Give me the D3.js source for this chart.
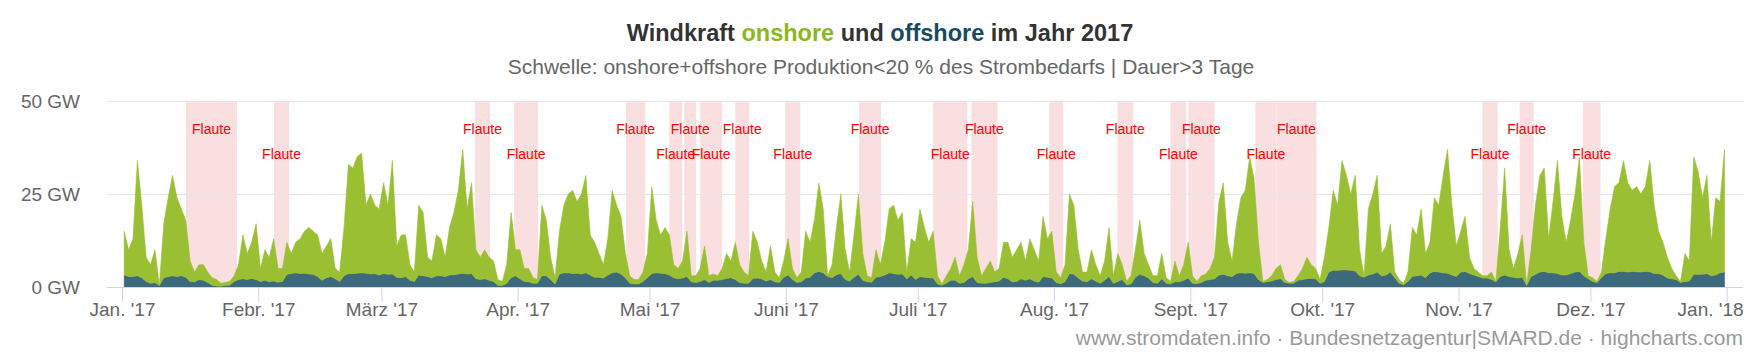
<!DOCTYPE html>
<html><head><meta charset="utf-8">
<script src="https://cdn.jsdelivr.net/npm/d3@7"></script>
<style>
html,body{margin:0;padding:0;background:#fff;}
svg{display:block;font-family:"Liberation Sans",Arial,Helvetica,sans-serif;}
</style></head>
<body>
<svg id="chart" width="1761" height="352"></svg>
<script>
// ---------- DATA (daily readings, GW) ----------
const windTotalGW = [
15,10,13,34,22,8,6,10,0.5,17,
24,30,24,21,18,7,4,6,6,4,
2.5,2,1,1.2,1.5,3,6,14,9,12,
17,5,10,8,13,5,5,12,9,12,
13,15,16,15,14,9,11,13,5,4,
16,33,32,35,36,22,25,22,21,28,
22,34,11,14,14,6,4,22,20,8,
7,14,13,8,16,20,26,37,21,28,
10,8,10,8,7,2,1.5,6,20,10,
10,5,5,2.5,2,22,18,8,2.5,15,
22,25,26,23,25,30,14,12,9,6,
13,26,22,19,9,3,2,2,4,9,
27,18,14,16,14,6,5,7,15,3,
3,5,11,3,3.5,3,5,9,7,12,
6,4,3,15,12,7,4,11,4,2.5,
7,13,5,2.5,4,15,12,18,28,21,
3,6,16,25,10,4,14,25,9,3,
2.5,10,6,12,21,22,18,20,4,13,
12,21,16,12,15,3,0.8,3,5,8,
3,6,10,23,8,3,5,7,4,5,
12,12,8,10,12,7,13,10,7,19,
13,15,4,2.5,6,25,22,10,4,4,
10,6,3,7,16,3,9,6,1.5,3,
10,18,9,6,3,3,9,2.5,1.5,7,
3,6,12,3,1.5,3,3.5,5,8,23,
28,12,7,17,24,26,35,29,12,1.5,
2,3,5,6,2,1.2,1.5,3,5,8,
6,5,2,8,16,26,22,34,30,25,
30,10,3,21,25,30,9,11,17,4,
2,1,4,16,14,21,9,12,24,22,
30,37,22,11,15,19,8,5,4,3,
3,4,1.5,16,32,10,5,9,14,0.5,
10,22,30,32,13,23,34,19,12,18,
25,35,12,3,2.5,1.5,4,13,21,27,
28,34,28,26,27,25,27,34,22,15,
12,8,5,3,1.5,9,7,35,31,24,
30,12,24,23,37
];
const offshoreGW = [
3.2,2.8,2.8,3,2.5,1.5,1,1.2,0.4,2.5,
2.8,3,2.8,3,2.6,1.5,1.4,2,1.8,1.2,
0.5,0.3,0.2,0.4,0.5,1.5,2,2.2,2,2.3,
2,1.5,1.8,1.4,1.6,1.3,1.5,3.4,3.6,3.8,
3.6,3.7,3.5,3.4,2.8,1.8,2.5,2.8,2.2,1.5,
3,3.6,3.6,3.7,3.8,3.7,3.5,3.6,3.2,3.6,
3.4,3.5,2.6,2.5,2.8,1.8,1.5,3.2,3,2.8,
2.5,3,3,2.8,3.2,3.3,3.5,3.7,3.5,3.6,
2.2,2,2.2,1.8,1.5,0.5,0.4,1,2.5,3,
2.2,1.5,1.4,1,1,3,3,2,0.8,3.5,
3.8,3.8,3.6,3.7,3.5,3.8,3.2,2.6,2.6,2.4,
3.2,3.8,4,3.5,2.5,1,0.8,0.8,1.5,2.5,
3.6,3.8,3.7,3.6,3.2,2.5,2.2,2.4,2.8,1.4,
1.2,1.5,2,1.2,1.8,1.8,2,2.3,2.5,2,
1.2,1,1,2.3,2.4,2.2,1.6,2,1.4,1.2,
2.6,3.2,2,1.2,1.4,2.4,2.6,3.8,4.2,3.8,
2.8,2.5,3.3,3.6,2,1.6,2.6,3.4,1.8,1.4,
1.3,2.6,2.8,3.2,3.8,3.6,3.4,3.5,2.2,3.2,
2,2.8,2.6,2.5,2.4,0.8,0.5,1,1.8,1.8,
1,1.2,2.2,2.8,1.2,1,1,1.2,1.4,1.6,
2.6,2.2,1.4,1.5,2.2,1.8,2.2,1.6,1.3,2.8,
2.6,2.4,1.2,0.9,1.4,3.6,3.4,2.4,1.6,1.4,
2.2,1.6,1,1.8,2.8,1,1.5,2,0.6,0.8,
2.6,3.4,3,2.4,1.2,1,2.2,1,0.8,1.4,
1.4,1.8,2.4,1,0.9,1.2,1.8,2,2.2,3.2,
3.4,3,2.8,3.6,3.8,3.7,3.8,3.6,2,1.2,
1.4,1.6,2,2.2,1.2,1,1,1.8,2,2.2,
2.3,2.2,1,1.5,4,4.5,4.5,4.6,4.6,4.5,
4.3,3,2.6,3.2,3.5,4,3,3.2,4,2.5,
1,0.6,1.5,2.8,3,3.2,2.5,3.8,4.2,4,
3.8,3.7,3.2,2.8,4,4.2,3.6,3.2,2.8,2.4,
2.4,2,1.4,2.8,3.2,2.8,2.6,2.4,2.6,0.4,
2.8,3.4,4,4.2,3.8,3.8,3.6,3.2,3.2,3.6,
4,4.2,3,2.2,1.5,1.2,2.5,3.6,3.8,3.8,
4.2,4.2,4,4.2,4.1,4,4.2,4.1,3.6,3.6,
3.2,2.4,2.2,2,1.2,1.5,1.6,3.4,3.4,3.4,
3.6,3,3.2,3.8,4
];
const flauteStart = ["2017-01-15T13:00","2017-02-04T14:00","2017-03-22T07:00","2017-03-31T05:00","2017-04-25T16:00","2017-05-05T12:00","2017-05-08T22:00","2017-05-12T12:00","2017-05-20T12:00","2017-05-31T21:00","2017-06-17T16:00","2017-07-04T12:00","2017-07-13T05:00","2017-07-30T22:00","2017-08-15T10:00","2017-08-27T12:00","2017-08-31T13:00","2017-09-15T19:00","2017-09-20T14:00","2017-11-06T10:00","2017-11-14T22:00","2017-11-29T07:00"];
const flauteEnd   = ["2017-01-27T04:00","2017-02-08T00:00","2017-03-25T17:00","2017-04-05T15:00","2017-04-30T00:00","2017-05-08T10:00","2017-05-11T14:00","2017-05-17T12:00","2017-05-23T16:00","2017-06-04T07:00","2017-06-22T16:00","2017-07-12T07:00","2017-07-19T02:00","2017-08-03T02:00","2017-08-19T00:00","2017-08-31T02:00","2017-09-06T12:00","2017-09-20T14:00","2017-09-29T17:00","2017-11-09T22:00","2017-11-18T02:00","2017-12-03T07:00"];
const monthTickLabels = ["Jan. '17","Febr. '17","März '17","Apr. '17","Mai '17","Juni '17","Juli '17","Aug. '17","Sept. '17","Okt. '17","Nov. '17","Dez. '17","Jan. '18"];
const yTickValues = [0,25,50];
const yTickLabels = ["0 GW","25 GW","50 GW"];

// ---------- LAYOUT ----------
const svg = d3.select("#chart");
const plotL = 107, plotR = 1743, plotT = 101, plotB = 287;
const t0 = Date.UTC(2017,0,1), t1 = Date.UTC(2018,0,1), DAY = 86400000;
const x = d3.scaleUtc().domain([t0, t1]).range([122, 1726.7]);
const y = d3.scaleLinear().domain([0,50]).range([plotB, plotT]);
const parse = d3.utcParse("%Y-%m-%dT%H:%M");

const table = windTotalGW.map((tot,i)=>({
  date: t0 + (i+0.5)*DAY,
  offshore: offshoreGW[i],
  onshore: Math.max(0, tot - offshoreGW[i])
}));
const stack = d3.stack().keys(["offshore","onshore"])(table);

// plot bands
const bands = flauteStart.map((s,i)=>({s:parse(s), e:parse(flauteEnd[i])}));
svg.append("g").selectAll("rect").data(bands).join("rect")
  .attr("x", d=>x(d.s)).attr("width", d=>x(d.e)-x(d.s))
  .attr("y", plotT).attr("height", plotB-plotT)
  .attr("fill", "#f9dfe0");

// gridlines
svg.append("g").selectAll("line").data(yTickValues).join("line")
  .attr("x1", plotL).attr("x2", plotR)
  .attr("y1", d=>Math.round(y(d))+0.5).attr("y2", d=>Math.round(y(d))+0.5)
  .attr("stroke", "#e6e6e6").attr("stroke-width", 1);

// areas
const area = d3.area().x(d=>x(d.data.date)).y0(d=>y(d[0])).y1(d=>y(d[1]));
const fills = {offshore:"#3d697d", onshore:"#9bbf33"};
svg.append("g").selectAll("path").data(stack).join("path")
  .attr("d", area).attr("fill", d=>fills[d.key])
  .attr("stroke", d=>fills[d.key]).attr("stroke-width", 0.6);

// x axis
const monthDates = d3.range(13).map(m=>new Date(Date.UTC(2017,m,1)));
const xAxis = d3.axisBottom(x).tickValues(monthDates)
  .tickFormat((d,i)=>monthTickLabels[i]).tickSizeOuter(0).tickSizeInner(15).tickPadding(1);
const gx = svg.append("g").attr("transform", `translate(0,${plotB})`).call(xAxis);
gx.select(".domain").remove();
gx.selectAll(".tick line").attr("stroke", "#ccd6eb");
gx.selectAll(".tick text").attr("fill", "#666").attr("font-size", "19px")
  .attr("font-family", "Liberation Sans, Arial, sans-serif").attr("dy", "0.71em");
gx.selectAll(".tick").filter((d,i)=>i===12).select("text")
  .attr("text-anchor", "end").attr("x", plotR - x(monthDates[12]));
svg.append("line").attr("x1", plotL).attr("x2", plotR)
  .attr("y1", plotB+0.5).attr("y2", plotB+0.5).attr("stroke", "#ccd6eb");

// y axis labels
const yAxis = d3.axisLeft(y).tickValues(yTickValues).tickFormat((d,i)=>yTickLabels[i]).tickSize(0).tickPadding(0);
const gy = svg.append("g").attr("transform", `translate(80,0)`).call(yAxis);
gy.select(".domain").remove();
gy.selectAll(".tick text").attr("fill", "#666").attr("font-size", "19px")
  .attr("font-family", "Liberation Sans, Arial, sans-serif");

// band labels
svg.append("g").selectAll("text").data(bands).join("text")
  .attr("x", d=>(x(d.s)+x(d.e))/2).attr("y", (d,i)=> i%2===0 ? 134 : 158.5)
  .attr("text-anchor", "middle").attr("font-size", "14px").attr("fill", "#ff0000")
  .text("Flaute");

// title
const title = svg.append("text").attr("x", 880).attr("y", 41).attr("text-anchor", "middle")
  .attr("font-size", "23.5px").attr("font-weight", "bold").attr("fill", "#333");
title.append("tspan").text("Windkraft ");
title.append("tspan").attr("fill", "#8ab81e").text("onshore");
title.append("tspan").text(" und ");
title.append("tspan").attr("fill", "#174c60").text("offshore");
title.append("tspan").text(" im Jahr 2017");

svg.append("text").attr("x", 881).attr("y", 74).attr("text-anchor", "middle")
  .attr("font-size", "21px").attr("fill", "#666")
  .text("Schwelle: onshore+offshore Produktion<20 % des Strombedarfs | Dauer>3 Tage");

svg.append("text").attr("x", 1743).attr("y", 345).attr("text-anchor", "end")
  .attr("font-size", "21px").attr("fill", "#999")
  .text("www.stromdaten.info · Bundesnetzagentur|SMARD.de · highcharts.com");
</script>
</body></html>
